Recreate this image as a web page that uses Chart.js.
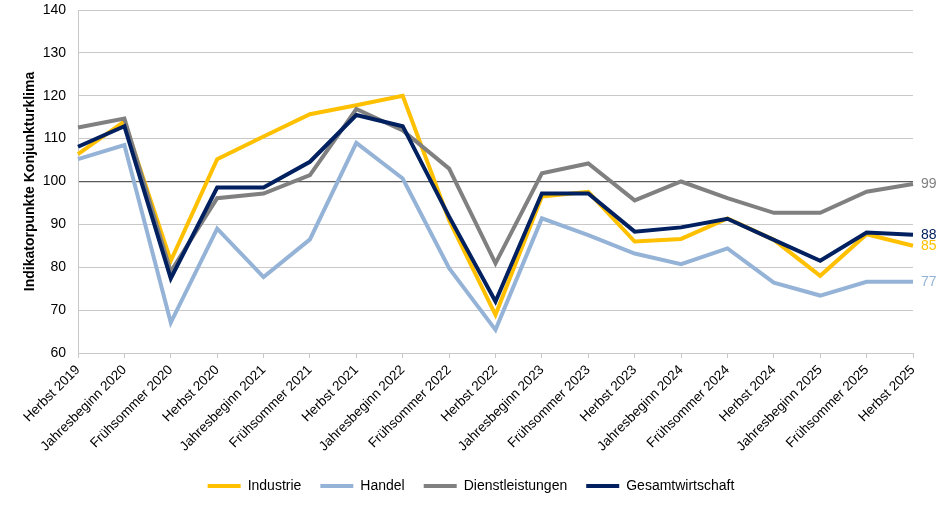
<!DOCTYPE html>
<html><head><meta charset="utf-8">
<script src="https://cdn.jsdelivr.net/npm/chart.js@4.4.1/dist/chart.umd.min.js"></script>
<style>html,body{margin:0;padding:0;background:#fff}#wrap{width:942px;height:507px;position:relative}</style>
</head><body><div id="wrap"><canvas id="c" width="942" height="507"></canvas></div>
<script>
const categories = ['Herbst 2019','Jahresbeginn 2020','Frühsommer 2020','Herbst 2020','Jahresbeginn 2021','Frühsommer 2021','Herbst 2021','Jahresbeginn 2022','Frühsommer 2022','Herbst 2022','Jahresbeginn 2023','Frühsommer 2023','Herbst 2023','Jahresbeginn 2024','Frühsommer 2024','Herbst 2024','Jahresbeginn 2025','Frühsommer 2025','Herbst 2025'];
const industrie = [106.4,114.0,81.5,105.2,110.5,115.7,117.8,120.0,91.0,68.9,96.5,97.6,86.0,86.6,91.4,86.4,78.0,87.7,85.0];
const handel = [105.2,108.5,67.1,89.0,77.7,86.5,109.0,100.7,79.8,65.4,91.4,87.5,83.2,80.7,84.4,76.4,73.4,76.6,76.6];
const dienstleistungen = [112.6,114.7,79.0,96.1,97.2,101.5,116.9,111.9,103.0,80.9,101.9,104.2,95.6,100.0,96.1,92.7,92.7,97.6,99.4];
const gesamtwirtschaft = [108.1,112.9,77.4,98.6,98.6,104.6,115.5,112.9,91.8,72.0,97.2,97.2,88.3,89.3,91.3,86.4,81.5,88.1,87.6];
const yMin = 60, yMax = 140, yStep = 10, refLine = 100;

const FONT = '"Liberation Sans", Arial, sans-serif';
Chart.defaults.font.family = FONT;
Chart.defaults.color = '#000';

const endLabels = {
  id: 'endLabels',
  afterDatasetsDraw(chart) {
    const ctx = chart.ctx;
    ctx.save();
    ctx.font = '14px ' + FONT;
    ctx.textBaseline = 'middle';
    ctx.textAlign = 'left';
    chart.data.datasets.forEach((ds, i) => {
      const meta = chart.getDatasetMeta(i);
      const pt = meta.data[meta.data.length - 1];
      const v = ds.data[ds.data.length - 1];
      ctx.fillStyle = ds.borderColor;
      ctx.fillText(String(Math.round(v)), pt.x + 8, pt.y);
    });
    ctx.restore();
  }
};

function ds(label, data, color, order) {
  return { label, data, borderColor: color, backgroundColor: color, borderWidth: 4,
    pointRadius: 0, tension: 0, fill: false, order, borderJoinStyle: 'miter' };
}

new Chart(document.getElementById('c'), {
  type: 'line',
  data: {
    labels: categories,
    datasets: [
      ds('Industrie', industrie, '#FFC000', 3),
      ds('Handel', handel, '#95B3D7', 2),
      ds('Dienstleistungen', dienstleistungen, '#808080', 1),
      ds('Gesamtwirtschaft', gesamtwirtschaft, '#002060', 0)
    ]
  },
  options: {
    responsive: false,
    animation: false,
    devicePixelRatio: 1,
    layout: { padding: { top: 10, left: 0, right: 0, bottom: 4 } },
    plugins: {
      tooltip: { enabled: false },
      legend: {
        position: 'bottom',
        labels: {
          boxWidth: 33, boxHeight: 4, padding: 19,
          font: { size: 14 }, color: '#000',
          generateLabels: chart => chart.data.datasets.map((d, i) => ({
            text: d.label, fillStyle: d.borderColor, strokeStyle: d.borderColor,
            lineWidth: 0, hidden: false, datasetIndex: i, fontColor: '#000'
          })),
          sort: (a, b) => a.datasetIndex - b.datasetIndex
        }
      }
    },
    scales: {
      x: {
        offset: false,
        grid: { display: true, drawOnChartArea: false, drawTicks: true, tickLength: 5, color: '#c8c8c8' },
        border: { color: '#c8c8c8' },
        ticks: { font: { size: 13.5 }, color: '#000', maxRotation: 45, minRotation: 45, autoSkip: false, padding: 4 },
        afterFit: s => { const lh = (s.chart.legend && s.chart.legend.height) ? s.chart.legend.height : 40; s.height = 507 - 353 - lh - 4; }
      },
      y: {
        min: yMin, max: yMax,
        ticks: { stepSize: yStep, font: { size: 14 }, color: '#000', padding: 12 },
        grid: {
          drawTicks: false,
          color: c => c.tick && c.tick.value === refLine ? '#595959' : '#c8c8c8',
          lineWidth: c => c.tick && c.tick.value === refLine ? 1.3 : 1
        },
        border: { color: '#c8c8c8' },
        title: { display: true, text: 'Indikatorpunkte Konjunkturklima', font: { size: 14, weight: 'bold' }, color: '#000', padding: { top: 22, bottom: 0 } },
        afterFit: s => { s.width = 78; s.paddingTop = 0; s.paddingBottom = 0; }
      },
      yr: {
        position: 'right', display: true,
        min: yMin, max: yMax,
        ticks: { display: false },
        grid: { display: false, drawTicks: false },
        border: { display: false },
        afterFit: s => { s.width = 29; s.paddingTop = 0; s.paddingBottom = 0; }
      }
    }
  },
  plugins: [endLabels]
});
</script></body></html>
